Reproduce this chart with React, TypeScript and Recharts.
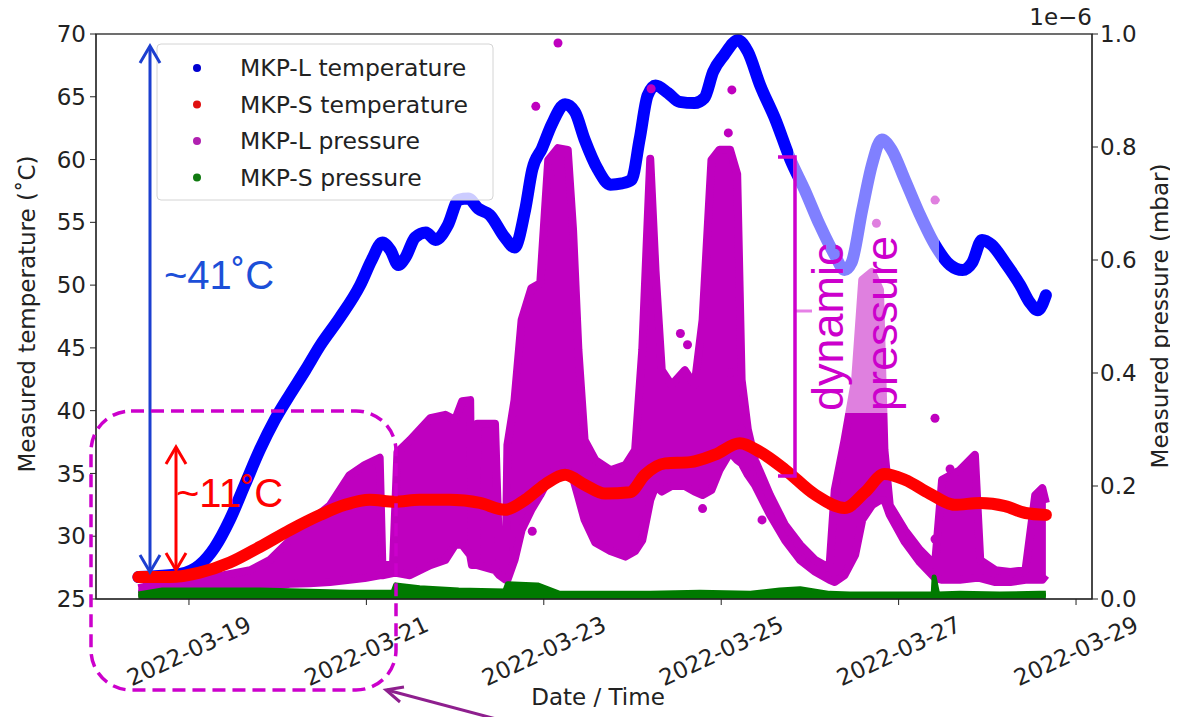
import React from 'react'
import { ComposedChart, Line, Area, Scatter, XAxis, YAxis } from 'recharts'

const DAY = 86400000
const T0 = Date.UTC(2022, 2, 18)
const FONT = 'DejaVu Sans'
const ANNO = 'Liberation Sans'

// [days since 2022-03-18, °C]
const mkpLTemp = [
  [0.43, 26.75], [0.9, 27.0], [1.12, 27.7], [1.29, 29.1], [1.46, 31.3], [1.63, 34.1], [1.8, 36.9], [1.97, 39.3],
  [2.14, 41.3], [2.31, 43.2], [2.48, 45.2], [2.7, 47.4], [2.93, 50.0], [3.06, 52.0], [3.18, 53.4], [3.27, 52.8],
  [3.36, 51.6], [3.44, 52.2], [3.55, 53.8], [3.67, 54.2], [3.78, 53.6], [3.92, 54.8], [4.04, 56.8], [4.15, 56.9],
  [4.26, 56.1], [4.39, 55.6], [4.56, 53.8], [4.67, 53.0], [4.79, 56.0], [4.87, 59.2], [4.98, 60.9], [5.09, 62.8],
  [5.24, 64.4], [5.35, 63.8], [5.46, 61.6], [5.61, 59.2], [5.75, 58.0], [5.88, 58.1], [5.99, 58.4], [6.08, 61.6],
  [6.17, 65.1], [6.26, 65.9], [6.4, 65.3], [6.53, 64.6], [6.7, 64.5], [6.81, 64.9], [6.91, 67.0], [7.03, 68.3],
  [7.19, 69.5], [7.3, 68.6], [7.44, 65.9], [7.61, 63.2], [7.78, 60.0], [7.94, 57.6], [8.11, 54.8], [8.28, 52.4],
  [8.39, 51.2], [8.47, 51.8], [8.59, 56.0], [8.7, 59.6], [8.81, 61.6], [8.92, 60.8], [9.07, 58.4], [9.24, 55.6],
  [9.41, 53.2], [9.58, 51.6], [9.72, 51.2], [9.83, 51.8], [9.94, 53.6], [10.05, 53.2], [10.2, 51.8], [10.37, 50.0],
  [10.48, 48.6], [10.57, 48.0], [10.66, 49.2],
]

const mkpSTemp = [
  [0.43, 26.75], [0.79, 26.75], [1.12, 27.1], [1.46, 27.9], [1.8, 29.15], [2.14, 30.5], [2.48, 31.7], [2.76, 32.5],
  [3.04, 32.9], [3.32, 32.75], [3.6, 32.9], [3.94, 32.9], [4.28, 32.65], [4.56, 32.1], [4.79, 32.9], [5.01, 34.1],
  [5.24, 34.9], [5.46, 34.1], [5.69, 33.4], [5.97, 33.5], [6.14, 34.9], [6.37, 35.8], [6.65, 35.9], [6.93, 36.5],
  [7.21, 37.4], [7.44, 36.7], [7.72, 35.3], [8.06, 33.3], [8.39, 32.25], [8.62, 33.5], [8.84, 34.95], [9.07, 34.5],
  [9.35, 33.4], [9.63, 32.5], [9.92, 32.65], [10.2, 32.4], [10.43, 31.85], [10.66, 31.7],
]

// [days, low, high] in 1e-6 mbar – envelope of the dense MKP-L pressure cloud
const mkpLPress = [
  [0.43, 0.009, 0.019], [0.67, 0.011, 0.027], [1.01, 0.012, 0.032], [1.35, 0.016, 0.041], [1.69, 0.019, 0.051],
  [1.91, 0.023, 0.069], [2.14, 0.027, 0.104], [2.36, 0.028, 0.136], [2.59, 0.03, 0.166], [2.81, 0.034, 0.219],
  [2.98, 0.037, 0.237], [3.15, 0.042, 0.25], [3.18, 0.042, 0.06], [3.3, 0.046, 0.06], [3.35, 0.046, 0.26],
  [3.49, 0.042, 0.281], [3.72, 0.06, 0.32], [3.89, 0.069, 0.326], [4.0, 0.096, 0.317], [4.08, 0.096, 0.35],
  [4.17, 0.078, 0.352], [4.19, 0.06, 0.075], [4.24, 0.06, 0.075], [4.25, 0.06, 0.31], [4.45, 0.051, 0.31],
  [4.5, 0.042, 0.06], [4.57, 0.034, 0.06], [4.59, 0.034, 0.273], [4.67, 0.069, 0.352], [4.75, 0.122, 0.494],
  [4.86, 0.158, 0.55], [4.96, 0.184, 0.559], [5.05, 0.211, 0.777], [5.16, 0.237, 0.798], [5.27, 0.228, 0.795],
  [5.33, 0.214, 0.653], [5.39, 0.18, 0.441], [5.46, 0.14, 0.281], [5.58, 0.1, 0.246], [5.75, 0.085, 0.228],
  [5.92, 0.075, 0.237], [6.03, 0.085, 0.264], [6.11, 0.104, 0.441], [6.2, 0.175, 0.779], [6.26, 0.2, 0.58],
  [6.33, 0.19, 0.405], [6.44, 0.2, 0.379], [6.59, 0.2, 0.405], [6.7, 0.19, 0.379], [6.79, 0.184, 0.494],
  [6.89, 0.193, 0.777], [6.98, 0.228, 0.795], [7.1, 0.26, 0.795], [7.18, 0.246, 0.752], [7.23, 0.24, 0.388],
  [7.3, 0.22, 0.3], [7.38, 0.202, 0.246], [7.55, 0.149, 0.184], [7.72, 0.104, 0.131], [7.89, 0.069, 0.096],
  [8.06, 0.048, 0.069], [8.22, 0.034, 0.055], [8.28, 0.03, 0.193], [8.39, 0.042, 0.281], [8.51, 0.078, 0.388],
  [8.59, 0.14, 0.565], [8.7, 0.166, 0.579], [8.79, 0.175, 0.547], [8.84, 0.175, 0.264], [8.9, 0.149, 0.166],
  [9.07, 0.101, 0.122], [9.24, 0.065, 0.087], [9.41, 0.037, 0.06], [9.49, 0.034, 0.211], [9.69, 0.034, 0.228],
  [9.86, 0.037, 0.255], [9.92, 0.037, 0.069], [10.09, 0.03, 0.051], [10.26, 0.03, 0.048], [10.43, 0.034, 0.051],
  [10.54, 0.034, 0.184], [10.62, 0.034, 0.196], [10.66, 0.042, 0.17],
]

// stray MKP-L pressure readings
const mkpLOutliers = [
  [5.16, 0.984], [4.91, 0.872], [5.07, 0.752], [6.21, 0.903], [7.12, 0.901], [7.08, 0.825], [8.75, 0.665],
  [9.41, 0.706], [9.41, 0.32], [4.87, 0.12], [6.79, 0.16], [7.46, 0.14], [9.41, 0.106], [9.58, 0.23],
  [7.1, 0.4], [7.23, 0.3], [6.54, 0.47], [6.62, 0.45],
]

const mkpSPress = [
  [0.43, 0.004, 0.009], [0.7, 0.004, 0.016], [1.12, 0.004, 0.016], [1.8, 0.004, 0.016], [2.25, 0.004, 0.014],
  [2.81, 0.004, 0.012], [3.3, 0.004, 0.012], [3.33, 0.004, 0.025], [3.6, 0.004, 0.02], [4.04, 0.004, 0.016],
  [4.56, 0.004, 0.014], [4.59, 0.004, 0.027], [4.93, 0.004, 0.025], [5.18, 0.004, 0.01], [5.64, 0.004, 0.01],
  [6.2, 0.004, 0.01], [6.76, 0.004, 0.012], [7.33, 0.004, 0.01], [7.66, 0.004, 0.016], [7.89, 0.004, 0.018],
  [8.22, 0.004, 0.01], [8.45, 0.004, 0.009], [9.01, 0.004, 0.009], [9.39, 0.004, 0.009], [9.4, 0.004, 0.039],
  [9.44, 0.004, 0.009], [9.69, 0.004, 0.01], [10.14, 0.004, 0.009], [10.59, 0.004, 0.01], [10.66, 0.004, 0.01],
]

const dateTicks = [1, 3, 5, 7, 9, 11].map((d) => T0 + d * DAY)
const tempTicks = [25, 30, 35, 40, 45, 50, 55, 60, 65, 70]
const pressTicks = [0, 0.2, 0.4, 0.6, 0.8, 1.0]

const ts = (d: number) => T0 + d * DAY
const blueRows = mkpLTemp.map(([d, v]) => ({ t: ts(d), v }))
const redRows = mkpSTemp.map(([d, v]) => ({ t: ts(d), v }))
const magRows = mkpLPress.map(([d, lo, hi]) => ({ t: ts(d), r: [lo, hi] }))
const outRows = mkpLOutliers.map(([d, v]) => ({ t: ts(d), v }))
const greenRows = mkpSPress.map(([d, lo, hi]) => ({ t: ts(d), r: [lo, hi] }))

const tickStyle = { fontSize: 23, fill: '#222', fontFamily: FONT }

function DateTick({ x, y, payload }: any) {
  const label = new Date(payload.value).toISOString().slice(0, 10)
  return (
    <g transform={`translate(${x},${y + 44}) rotate(-25)`}>
      <text textAnchor="middle" dy="0.35em" style={tickStyle}>{label}</text>
    </g>
  )
}

const legendItems = [
  { name: 'MKP-L temperature', color: '#0000d0' },
  { name: 'MKP-S temperature', color: '#e01010' },
  { name: 'MKP-L pressure', color: '#b020b0' },
  { name: 'MKP-S pressure', color: '#107a10' },
]

function Overlay() {
  const mag = '#cc00cc'
  return (
    <svg width={1178} height={717} style={{ position: 'absolute', left: -8, top: -8, pointerEvents: 'none' }}>
      {/* frame */}
      <rect x={96} y={34} width={996} height={565} fill="none" stroke="#222" strokeWidth={1.3} />
      <text x={1092} y={25} textAnchor="end" style={tickStyle}>1e−6</text>

      {/* legend */}
      <rect x={157} y={44} width={336} height={156} rx={4} fill="#fff" fillOpacity={0.8} stroke="#d4d4d4" />
      {legendItems.map((it, i) => (
        <g key={it.name}>
          <circle cx={197} cy={68 + i * 36.5} r={4} fill={it.color} />
          <text x={240} y={68 + i * 36.5} dy="0.35em" style={{ ...tickStyle, fontSize: 23.5 }}>{it.name}</text>
        </g>
      ))}

      {/* axis titles */}
      <text x={598} y={697} textAnchor="middle" dy="0.35em" style={tickStyle}>Date / Time</text>
      <text transform="translate(27,314) rotate(-90)" textAnchor="middle" dy="0.35em" style={tickStyle}>
        Measured temperature (˚C)
      </text>
      <text transform="translate(1160,316) rotate(-90)" textAnchor="middle" dy="0.35em" style={tickStyle}>
        Measured pressure (mbar)
      </text>

      {/* ~41°C arrow */}
      <g stroke="#1c3fd0" strokeWidth={3} fill="none">
        <line x1={150} y1={47} x2={150} y2={571} />
        <polyline points="140,63 150,46 160,63" />
        <polyline points="140,555 150,572 160,555" />
      </g>
      <text x={164} y={289} fill="#1c4fd8" style={{ fontSize: 40, fontFamily: ANNO }}>~41˚C</text>

      {/* ~11°C arrow */}
      <g stroke="#ff0000" strokeWidth={3} fill="none">
        <line x1={176} y1={448} x2={176} y2={569} />
        <polyline points="166,464 176,447 186,464" />
        <polyline points="166,553 176,570 186,553" />
      </g>
      <text x={176} y={507} fill="#ff0000" style={{ fontSize: 40, fontFamily: ANNO }}>~11˚C</text>

      {/* dashed highlight box + pointer */}
      <rect x={91} y={411} width={305} height={279} rx={40} fill="none" stroke={mag} strokeWidth={3.5} strokeDasharray="13 7" />
      <g stroke="#8e1f8e" strokeWidth={3} fill="none">
        <line x1={500} y1={720} x2={387} y2={690} />
        <polyline points="400,702 386,690 404,687" />
      </g>

      {/* dynamic pressure */}
      <line x1={795} y1={311} x2={812} y2={311} stroke={mag} strokeWidth={3} />
      <rect x={793} y={118} width={146} height={295} fill="#fff" fillOpacity={0.5} />
      <path d="M778 157 H795 V476 H778" fill="none" stroke={mag} strokeWidth={3.5} />
      <text transform="translate(843,411) rotate(-90)" fill={mag} style={{ fontSize: 45, fontFamily: ANNO }}>dynamic</text>
      <text transform="translate(897,411) rotate(-90)" fill={mag} style={{ fontSize: 45, fontFamily: ANNO }}>pressure</text>
    </svg>
  )
}

export default function App() {
  return (
    <div style={{ position: 'relative', width: 1170, height: 709 }}>
      <ComposedChart width={1170} height={709} margin={{ top: 26, right: 0, bottom: 0, left: 0 }}>
        <XAxis
          dataKey="t" type="number" domain={[T0 - 0.048 * DAY, T0 + 11.18 * DAY]} ticks={dateTicks}
          allowDataOverflow height={118} tickSize={6} tick={<DateTick />}
          axisLine={{ stroke: '#222' }} tickLine={{ stroke: '#222' }}
        />
        <YAxis
          yAxisId="temp" orientation="left" width={88} domain={[25, 70]} ticks={tempTicks}
          tickSize={6} tickMargin={4} tick={tickStyle} axisLine={{ stroke: '#222' }} tickLine={{ stroke: '#222' }}
        />
        <YAxis
          yAxisId="press" orientation="right" width={86} domain={[0, 1]} ticks={pressTicks}
          tickFormatter={(v) => Number(v).toFixed(1)}
          tickSize={6} tickMargin={2} tick={tickStyle} axisLine={{ stroke: '#222' }} tickLine={{ stroke: '#222' }}
        />
        <Area
          yAxisId="press" data={magRows} dataKey="r" type="linear" fill="#bf00bf" fillOpacity={1}
          stroke="#bf00bf" strokeWidth={8} strokeLinejoin="round" isAnimationActive={false} dot={false} activeDot={false}
        />
        <Scatter
          yAxisId="press" data={outRows} dataKey="v" fill="#bf00bf" isAnimationActive={false}
          shape={(p: any) => <circle cx={p.cx} cy={p.cy} r={4.5} fill="#bf00bf" />}
        />
        <Area
          yAxisId="press" data={greenRows} dataKey="r" type="linear" fill="#007a00" fillOpacity={1}
          stroke="#007a00" strokeWidth={5} strokeLinejoin="round" isAnimationActive={false} dot={false} activeDot={false}
        />
        <Line
          yAxisId="temp" data={blueRows} dataKey="v" type="monotone" stroke="#0000ff" strokeWidth={12}
          strokeLinecap="round" strokeLinejoin="round" dot={false} activeDot={false} isAnimationActive={false}
        />
        <Line
          yAxisId="temp" data={redRows} dataKey="v" type="monotone" stroke="#ff0000" strokeWidth={12}
          strokeLinecap="round" strokeLinejoin="round" dot={false} activeDot={false} isAnimationActive={false}
        />
      </ComposedChart>
      <Overlay />
    </div>
  )
}
